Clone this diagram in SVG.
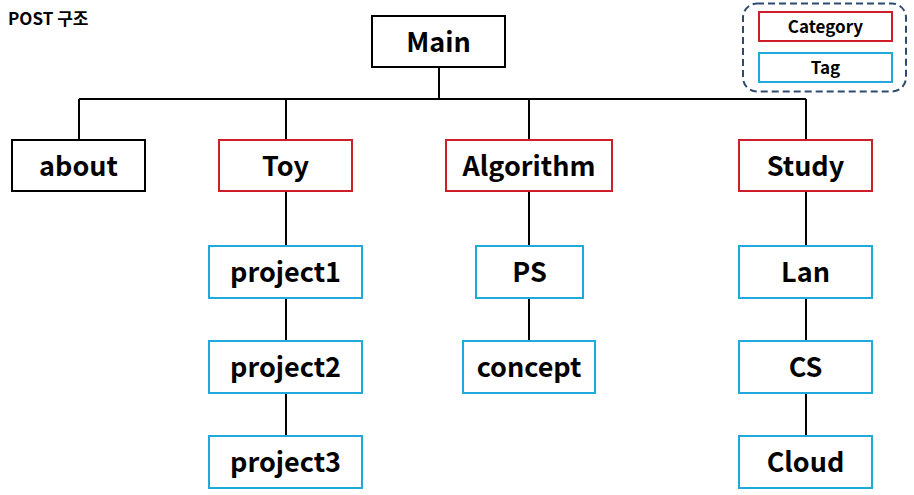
<svg xmlns="http://www.w3.org/2000/svg" width="914" height="495" viewBox="0 0 914 495">
<style>
.bx{fill:#fff;stroke-width:2}
.plain{stroke:#000}
.cat{stroke:#cc1f27}
.tag{stroke:#20a9dc}
.t{font-family:"Noto Sans CJK KR","Noto Sans",sans-serif;font-weight:700;font-size:27px;fill:#000;text-anchor:middle}
.lt{font-family:"Noto Sans CJK KR","Noto Sans",sans-serif;font-weight:700;font-size:17px;fill:#000;text-anchor:middle}
.ln{stroke:#000;stroke-width:2;fill:none}
</style>
<rect width="914" height="495" fill="#fff"/>
<text x="8" y="25" font-family="'Noto Sans CJK KR','Noto Sans',sans-serif" font-weight="700" font-size="17" fill="#000">POST 구조</text>
<g id="connectors">
<path class="ln" d="M439 67V99M79 99H806M79 99V140M286 99V140M529 99V140M806 99V140"/>
<path class="ln" d="M286 192V246M286 298V341M286 393V436"/>
<path class="ln" d="M529 192V246M529 298V341"/>
<path class="ln" d="M806 192V246M806 298V341M806 393V436"/>
</g>
<g id="legend">
<rect x="743" y="3.5" width="163" height="88" rx="14" fill="none" stroke="#2f4a70" stroke-width="2" stroke-dasharray="7 4"/>
<rect class="bx cat" x="759" y="12" width="133" height="29"/>
<text class="lt" x="825.5" y="32.5">Category</text>
<rect class="bx tag" x="759" y="53" width="133" height="29"/>
<text class="lt" x="825.5" y="73.5">Tag</text>
</g>
<g id="main"><rect class="bx plain" x="372" y="16" width="133" height="51"/><text class="t" x="438.5" y="51.5">Main</text></g>
<g id="about"><rect class="bx plain" x="12" y="140" width="133" height="51"/><text class="t" x="78.5" y="176">about</text></g>
<g id="toy"><rect class="bx cat" x="219" y="140" width="133" height="51"/><text class="t" x="285.5" y="176">Toy</text></g>
<g id="algorithm"><rect class="bx cat" x="446" y="140" width="166" height="51"/><text class="t" x="529" y="176">Algorithm</text></g>
<g id="study"><rect class="bx cat" x="739" y="140" width="133" height="51"/><text class="t" x="805.5" y="176">Study</text></g>
<g id="project1"><rect class="bx tag" x="209" y="246" width="153" height="52"/><text class="t" x="285.5" y="281.5">project1</text></g>
<g id="project2"><rect class="bx tag" x="209" y="341" width="153" height="52"/><text class="t" x="285.5" y="376.5">project2</text></g>
<g id="project3"><rect class="bx tag" x="209" y="436" width="153" height="52"/><text class="t" x="285.5" y="471.5">project3</text></g>
<g id="ps"><rect class="bx tag" x="476" y="246" width="107" height="52"/><text class="t" x="529.5" y="281.5">PS</text></g>
<g id="concept"><rect class="bx tag" x="463" y="341" width="132" height="52"/><text class="t" x="529" y="376.5">concept</text></g>
<g id="lan"><rect class="bx tag" x="739" y="246" width="133" height="52"/><text class="t" x="805.5" y="281.5">Lan</text></g>
<g id="cs"><rect class="bx tag" x="739" y="341" width="133" height="52"/><text class="t" x="805.5" y="376.5">CS</text></g>
<g id="cloud"><rect class="bx tag" x="739" y="436" width="133" height="52"/><text class="t" x="805.5" y="471.5">Cloud</text></g>
</svg>
